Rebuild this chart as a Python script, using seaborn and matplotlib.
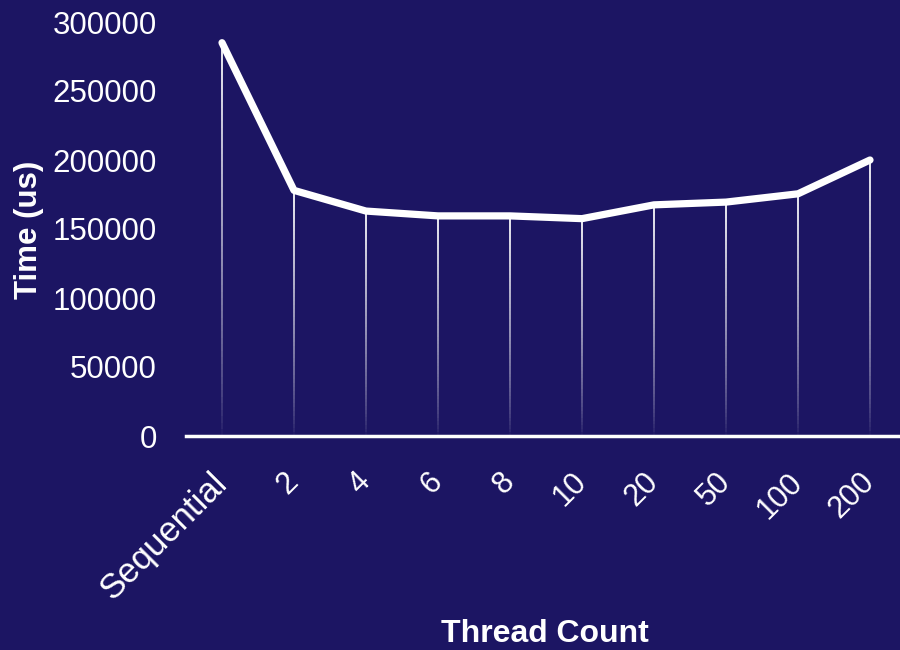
import numpy as np
import pandas as pd
import matplotlib
matplotlib.use("Agg")
import matplotlib.pyplot as plt
import seaborn as sns
from matplotlib.collections import LineCollection

# Run time for each thread configuration
thread_labels = ["Sequential", "2", "4", "6", "8", "10", "20", "50", "100", "200"]
time_us = [285000, 178000, 163000, 159500, 159500, 157500, 167500, 169500, 175500, 200000]

BG = "#1c1563"
FG = "white"

sns.set_theme(style="white")
plt.rcParams["font.family"] = ["Liberation Sans", "DejaVu Sans"]

df = pd.DataFrame({"pos": np.arange(len(thread_labels)), "time": time_us})

fig = plt.figure(figsize=(9, 6.5), dpi=100, facecolor=BG)
ax = fig.add_axes([186 / 900, 1 - 436 / 650, 714 / 900, (436 - 22) / 650])
ax.set_facecolor(BG)

# Vertical drop lines fading out toward the baseline
n_seg = 60
segments, colors = [], []
for x, y in zip(df["pos"], df["time"]):
    ys = np.linspace(0, y, n_seg + 1)
    for i in range(n_seg):
        segments.append([(x, ys[i]), (x, ys[i + 1])])
        a = ((i + 0.5) / n_seg) ** 0.7 * 0.92
        colors.append((1, 1, 1, a))
ax.add_collection(LineCollection(segments, colors=colors, linewidths=1.4, zorder=1))

sns.lineplot(data=df, x="pos", y="time", ax=ax, color=FG, linewidth=5.2,
             sort=False, zorder=3, clip_on=False)
for ln in ax.lines:
    ln.set_solid_capstyle("round")
    ln.set_solid_joinstyle("round")

ax.set_xlim(-0.5, -0.5 + 714 / 72)
ax.set_ylim(0, 300000)
ax.set_yticks(np.arange(0, 300001, 50000))
ax.set_yticklabels([str(v) for v in range(0, 300001, 50000)], color=FG, fontsize=22.5)
ax.set_xticks(df["pos"])
ax.set_xticklabels(thread_labels, rotation=45, ha="right", va="center",
                   rotation_mode="anchor", color=FG, fontsize=22)
for lbl in ax.get_xticklabels():
    if lbl.get_text() == "Sequential":
        lbl.set_fontsize(25)
ax.tick_params(axis="y", length=0, pad=21)
ax.tick_params(axis="x", length=0, pad=30)

for side in ["top", "right", "left"]:
    ax.spines[side].set_visible(False)
ax.spines["bottom"].set_color(FG)
ax.spines["bottom"].set_linewidth(2.5)
ax.spines["bottom"].set_zorder(4)

ax.set_xlabel("Thread Count", color=FG, fontsize=23, fontweight="bold")
ax.set_ylabel("Time (us)", color=FG, fontsize=22.5, fontweight="bold")
ax.xaxis.set_label_coords((545 - 186) / 714, -(619 - 436) / 414)
ax.yaxis.set_label_coords(-(186 - 44) / 714, (436 - 230) / 414)

fig.savefig("out.png", dpi=100, facecolor=BG)
